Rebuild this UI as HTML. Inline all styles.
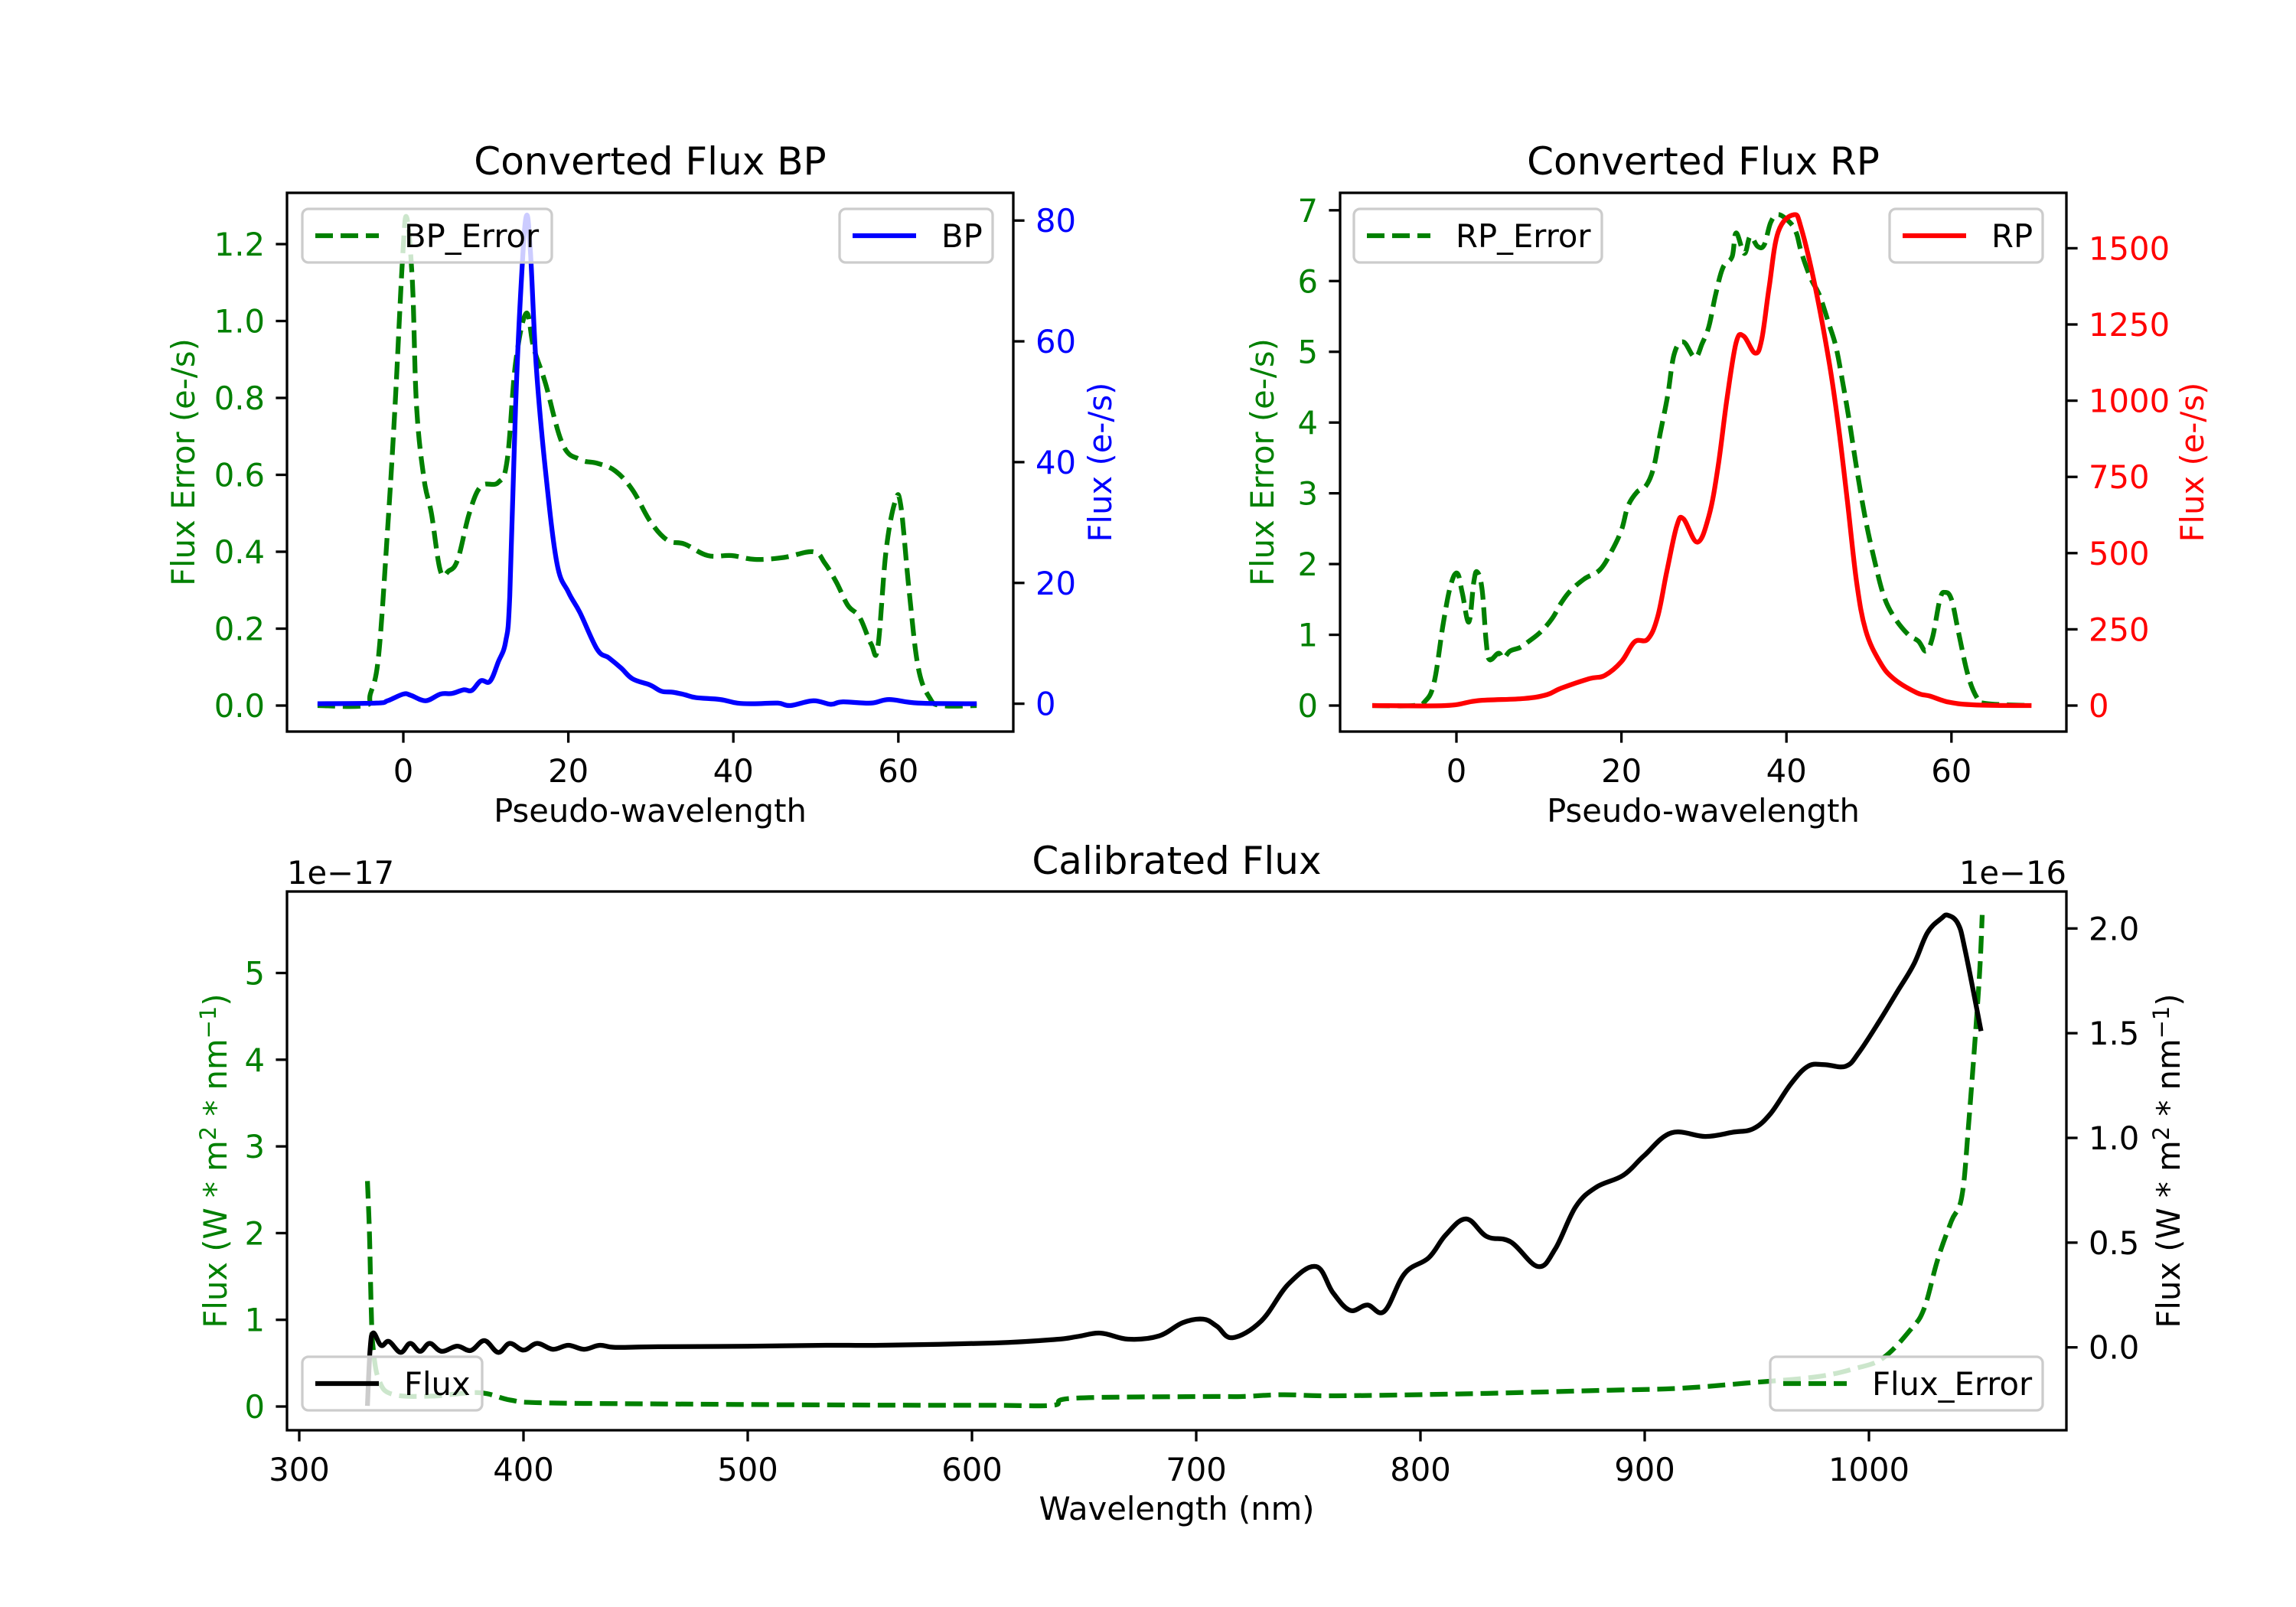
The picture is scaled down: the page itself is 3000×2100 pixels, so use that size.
<!DOCTYPE html>
<html><head><meta charset="utf-8"><style>
html,body{margin:0;padding:0;background:#fff;}
svg{display:block;font-family:"DejaVu Sans","Liberation Sans",sans-serif;}
</style></head><body>
<svg id="fig" width="3000" height="2100" viewBox="0 0 3000 2100" xmlns="http://www.w3.org/2000/svg"></svg>
<script>
// ---- BP data ----
const bpX = [-10.4,-3.3,-1.9,0,0.9,2.7,4.5,5.9,7.3,8.3,9.4,10.5,11.5,12.4,12.9,13.6,14.3,14.9,15.4,16.1,17.2,18.6,20,21.4,23.5,24.9,26.4,27.8,29.9,31.3,32.7,34.1,35.5,38.4,40.5,42.6,45.4,46.9,49.7,51.8,53.2,56.7,58.9,62.4,69.5];
const bpFlux = [0,0.1,0.5,1.6,1.4,0.5,1.6,1.7,2.3,2.2,3.8,3.7,6.9,10.3,17.9,49,70,80.7,75,56,39,23.4,18.5,15.1,9.0,7.6,5.9,4.1,3.1,2.06,1.9,1.5,1.0,0.7,0.1,0,0.1,-0.3,0.5,-0.1,0.3,0.1,0.7,0.1,0];
const bpErrX = [-10.4,-4.7,-4,-3,-1.9,-1,-0.1,0.4,1.1,1.6,2.5,3.4,4.5,5.5,6.6,8,9.4,11.5,12.6,13.6,14.9,15.8,17.2,19.3,21.4,23.5,25.7,27.8,29.9,32,34.1,36.9,39.8,42.6,46.1,49.7,51.1,52.5,53.9,55.3,56.7,57.5,58.5,59.6,60.3,61.3,62.4,63.8,65.2,69.5];
const bpErr = [0,0,0.03,0.13,0.46,0.78,1.16,1.27,1.1,0.78,0.59,0.5,0.35,0.35,0.38,0.5,0.57,0.58,0.64,0.89,1.02,0.93,0.84,0.68,0.64,0.63,0.61,0.56,0.48,0.43,0.42,0.39,0.39,0.38,0.385,0.4,0.37,0.32,0.26,0.23,0.16,0.15,0.4,0.53,0.52,0.3,0.1,0.02,0,0];
// ---- RP data ----
const rpX = [-10.2,-1.3,2.6,8.2,11,12.7,16.1,18,20,21.6,23.2,24.4,25.5,26.7,27.5,29.2,30.6,31.7,32.8,33.9,34.8,36.2,37,37.9,39,40.9,41.8,43.5,45.2,46.3,47.4,48.5,49.6,51.3,53,55.8,57.4,59.7,63,69.7];
const rpFlux = [0,0,16,23,36,57,88,99,144,209,218,292,440,588,613,536,622,781,1008,1190,1212,1156,1201,1372,1553,1610,1565,1372,1122,917,667,406,247,144,88,42,31,11,2,0];
const rpErrX = [-10.2,-5.2,-3.8,-2.7,-1.6,-0.7,0.1,0.7,1.5,2.1,2.5,3.1,3.6,4,5.1,5.7,6.5,7.7,8.8,10.2,11.6,12.7,13.8,15.5,17.4,18.8,20,20.8,21.9,23,23.9,24.7,25.6,26.4,27.5,28.9,29.8,30.6,31.4,32.3,33.4,33.9,34.9,35.6,36.5,37.3,38.1,39,40.4,41.2,41.8,42.9,44,45.1,46,46.8,47.6,48.5,49.6,50.7,51.8,53,54.7,56,56.9,57.7,58.6,59.2,60,60.9,62,63.1,64.1,69.7];
const rpErr = [0,0,0.06,0.33,1.16,1.7,1.87,1.6,1.18,1.74,1.89,1.65,0.91,0.65,0.74,0.67,0.77,0.82,0.91,1.04,1.23,1.45,1.62,1.79,1.92,2.18,2.48,2.82,3.02,3.11,3.36,3.85,4.38,4.97,5.14,4.92,5.12,5.36,5.8,6.19,6.34,6.68,6.39,6.63,6.49,6.51,6.83,6.94,6.83,6.68,6.41,6.05,5.8,5.41,5.07,4.58,4.04,3.36,2.62,2.04,1.55,1.26,1.01,0.91,0.77,0.96,1.5,1.6,1.5,1.01,0.43,0.11,0.03,0];
// ---- Calibrated data ----
const calX = [330.4,331.6,333,336.5,340,345.2,349.5,353.9,358.2,363.5,370.4,376.5,382.6,388.7,393.9,400,406.1,413.1,420,427,434,441,460,500,535,559,610,637.6,646.8,657.4,669.6,683.3,694,703.1,709.2,716.2,729,741.2,753.4,761,768.6,776.3,783.9,793,803.7,811.3,820.4,829.6,840.2,852.4,860.1,869.2,878.3,890.5,899.7,911.9,927.1,939.3,948.4,956.1,965.2,972.8,980,989.6,995.6,1004.8,1012.4,1020,1026.1,1032.2,1035.3,1039.8,1042.9,1050];
const calFlux = [-0.279,-0.009,0.069,0.009,0.028,-0.024,0.019,-0.019,0.019,-0.019,0.006,-0.015,0.032,-0.024,0.019,-0.013,0.019,-0.009,0.01,-0.009,0.01,0,0.003,0.005,0.01,0.01,0.021,0.038,0.051,0.068,0.039,0.054,0.118,0.135,0.101,0.046,0.126,0.303,0.386,0.261,0.177,0.202,0.172,0.353,0.428,0.537,0.613,0.529,0.504,0.386,0.47,0.671,0.764,0.822,0.915,1.024,1.007,1.027,1.044,1.116,1.258,1.342,1.35,1.342,1.409,1.56,1.694,1.829,1.98,2.047,2.063,2.021,1.896,1.51];
const calErrX = [330.4,331.3,332.1,333,335.6,341.7,359,380,394,408,460,559,610,636,645.2,701.6,720,738.2,762.6,823.5,884.4,914.9,945.4,975.8,994.1,1006.3,1018.5,1024.6,1030.7,1036.8,1041.4,1044.4,1049,1050.5];
const calErr = [2.6,2.01,1.11,0.66,0.3,0.14,0.12,0.16,0.075,0.043,0.03,0.016,0.0145,0.014,0.095,0.115,0.115,0.136,0.124,0.148,0.188,0.209,0.27,0.34,0.44,0.56,0.885,1.13,1.7,2.14,2.42,3.24,4.86,5.67];
// ---- ticks ----
const bpXTicks = [0,20,40,60];
const bpLTicks = [0,0.2,0.4,0.6,0.8,1.0,1.2];
const bpRTicks = [0,20,40,60,80];
const rpLTicks = [0,1,2,3,4,5,6,7];
const rpRTicks = [0,250,500,750,1000,1250,1500];
const calXTicks = [300,400,500,600,700,800,900,1000];
const calLTicks = [0,1,2,3,4,5];
const calRTicks = [0,0.5,1.0,1.5,2.0];

const NS="http://www.w3.org/2000/svg";
const svg=document.getElementById('fig');
function mk(tag,attrs,parent){const e=document.createElementNS(NS,tag);for(const k in attrs)e.setAttribute(k,attrs[k]);(parent||svg).appendChild(e);return e;}
function lin(d0,d1,p0,p1){return v=>p0+(v-d0)*(p1-p0)/(d1-d0);}
const FS=41.7;

function axesBox(x0,y0,x1,y1,name){
  const r=mk('rect',{x:x0,y:y0,width:x1-x0,height:y1-y0,fill:'none',stroke:'#000','stroke-width':3.3});
  
  
}
function yTicks(ticks,sy,xa,side,color,fmt,name){
  const g=mk('g',{});
  
  
  ticks.forEach(t=>{
    const y=sy(t);
    const dx=side==='left'?-14.6:14.6;
    mk('line',{x1:xa,x2:xa+dx,y1:y,y2:y,stroke:'#000','stroke-width':3.3},g);
    const tx=mk('text',{x:side==='left'?xa-29:xa+29,y:y+15,'font-size':FS,fill:color,'text-anchor':side==='left'?'end':'start'},g);
    tx.textContent=fmt(t);
  });
}
function xTicks(ticks,sx,ya,fmt,name){
  const g=mk('g',{});
  
  
  ticks.forEach(t=>{
    const x=sx(t);
    mk('line',{x1:x,x2:x,y1:ya,y2:ya+14.6,stroke:'#000','stroke-width':3.3},g);
    const tx=mk('text',{x:x,y:ya+66,'font-size':FS,fill:'#000','text-anchor':'middle'},g);
    tx.textContent=fmt(t);
  });
}
function line(xs,ys,sx,sy,color,dashed,name,clip){
  const P=xs.map((x,i)=>[sx(x),sy(ys[i])]);
  let d='M'+P[0][0].toFixed(1)+','+P[0][1].toFixed(1);
  for(let i=0;i<P.length-1;i++){
    const p0=P[Math.max(0,i-1)],p1=P[i],p2=P[i+1],p3=P[Math.min(P.length-1,i+2)];
    const t=0.18;
    const c1=[p1[0]+(p2[0]-p0[0])*t,p1[1]+(p2[1]-p0[1])*t];
    const c2=[p2[0]-(p3[0]-p1[0])*t,p2[1]-(p3[1]-p1[1])*t];
    d+='C'+c1[0].toFixed(1)+','+c1[1].toFixed(1)+' '+c2[0].toFixed(1)+','+c2[1].toFixed(1)+' '+p2[0].toFixed(1)+','+p2[1].toFixed(1);
  }
  const p=mk('path',{d:d,fill:'none',stroke:color,'stroke-width':6.25,'stroke-linejoin':'round','clip-path':'url(#'+clip+')'});
  if(dashed)p.setAttribute('stroke-dasharray','23,10');
  
  
}
function text(x,y,s,size,color,anchor,name,rot){
  const t=mk('text',{x:x,y:y,'font-size':size,fill:color,'text-anchor':anchor||'middle'});
  if(rot)t.setAttribute('transform','rotate(-90 '+x+' '+y+')');
  t.textContent=s;
  
  
  return t;
}
function legend(x0,y0,x1,y1,color,dashed,label,name){
  const g=mk('g',{});
  
  
  mk('rect',{x:x0,y:y0,width:x1-x0,height:y1-y0,rx:8,fill:'#fff','fill-opacity':0.8,stroke:'#ccc','stroke-width':3.3},g);
  const cy=(y0+y1)/2;
  const l=mk('line',{x1:x0+17,x2:x0+100,y1:cy,y2:cy,stroke:color,'stroke-width':6.25},g);
  if(dashed)l.setAttribute('stroke-dasharray','23,10');
  const t=mk('text',{x:x0+133,y:cy+15,'font-size':FS,fill:'#000'},g);
  t.textContent=label;
}
const defs=mk('defs',{});
function clip(id,x0,y0,x1,y1){const c=mk('clipPath',{id:id},defs);mk('rect',{x:x0,y:y0,width:x1-x0,height:y1-y0},c);}
const G='#008000';

// ===== BP =====
(function(){
  const X0=375,X1=1324,Y0=252,Y1=956;
  clip('cbp',X0,Y0,X1,Y1);
  const sx=lin(0,20,527,742.6);
  const syL=lin(0,1.2,922,319);
  const syR=lin(0,80,919.6,288.2);
  line(bpErrX,bpErr,sx,syL,G,true,'bp-error-line','cbp');
  line(bpX,bpFlux,sx,syR,'#0000ff',false,'bp-flux-line','cbp');
  axesBox(X0,Y0,X1,Y1,'bp-axes-frame');
  yTicks(bpLTicks,syL,X0,'left',G,v=>v.toFixed(1),'bp-left-y-ticks');
  yTicks(bpRTicks,syR,X1,'right','#0000ff',v=>String(v),'bp-right-y-ticks');
  xTicks(bpXTicks,sx,Y1,v=>String(v),'bp-x-ticks');
  text((X0+X1)/2,228,'Converted Flux BP',50,'#000','middle','bp-title');
  text((X0+X1)/2,1074,'Pseudo-wavelength',FS,'#000','middle','bp-x-axis-title');
  text(254,604,'Flux Error (e-/s)',FS,G,'middle','bp-left-y-axis-title',true);
  text(1452,604,'Flux (e-/s)',FS,'#0000ff','middle','bp-right-y-axis-title',true);
  legend(395,273,721,343,G,true,'BP_Error','bp-error-legend');
  legend(1097,273,1297,343,'#0000ff',false,'BP','bp-legend');
})();

// ===== RP =====
(function(){
  const X0=1751,X1=2700,Y0=252,Y1=956;
  clip('crp',X0,Y0,X1,Y1);
  const sx=lin(0,20,1903,2118.6);
  const syL=lin(0,7,922,274.8);
  const syR=lin(0,1500,922,324.4);
  line(rpErrX,rpErr,sx,syL,G,true,'rp-error-line','crp');
  line(rpX,rpFlux,sx,syR,'#ff0000',false,'rp-flux-line','crp');
  axesBox(X0,Y0,X1,Y1,'rp-axes-frame');
  yTicks(rpLTicks,syL,X0,'left',G,v=>String(v),'rp-left-y-ticks');
  yTicks(rpRTicks,syR,X1,'right','#ff0000',v=>String(v),'rp-right-y-ticks');
  xTicks(bpXTicks,sx,Y1,v=>String(v),'rp-x-ticks');
  text((X0+X1)/2,228,'Converted Flux RP',50,'#000','middle','rp-title');
  text((X0+X1)/2,1074,'Pseudo-wavelength',FS,'#000','middle','rp-x-axis-title');
  text(1664,604,'Flux Error (e-/s)',FS,G,'middle','rp-left-y-axis-title',true);
  text(2879,604,'Flux (e-/s)',FS,'#ff0000','middle','rp-right-y-axis-title',true);
  legend(1769,273,2093,343,G,true,'RP_Error','rp-error-legend');
  legend(2469,273,2669,343,'#ff0000',false,'RP','rp-legend');
})();

// ===== Calibrated =====
(function(){
  const X0=375,X1=2700,Y0=1165,Y1=1869;
  clip('ccal',X0,Y0,X1,Y1);
  const sx=lin(300,1000,391,2442);
  const syL=lin(0,1,1838,1724.7);
  const syR=lin(0,2,1760.7,1213.3);
  line(calErrX,calErr,sx,syL,G,true,'flux-error-line','ccal');
  line(calX,calFlux,sx,syR,'#000',false,'calibrated-flux-line','ccal');
  axesBox(X0,Y0,X1,Y1,'calibrated-axes-frame');
  yTicks(calLTicks,syL,X0,'left',G,v=>String(v),'calibrated-left-y-ticks');
  yTicks(calRTicks,syR,X1,'right','#000',v=>v.toFixed(1),'calibrated-right-y-ticks');
  xTicks(calXTicks,sx,Y1,v=>String(v),'calibrated-x-ticks');
  text((X0+X1)/2,1142,'Calibrated Flux',50,'#000','middle','calibrated-title');
  text((X0+X1)/2,1986,'Wavelength (nm)',FS,'#000','middle','calibrated-x-axis-title');
  text(375,1155,'1e\u221217',FS,'#000','start','left-offset-text');
  text(2700,1155,'1e\u221216',FS,'#000','end','right-offset-text');
  const l=text(296,1517,'',FS,G,'middle','calibrated-left-y-axis-title',true);
  l.innerHTML='Flux (W * m<tspan dy="-14" font-size="29">2</tspan><tspan dy="14"> * nm</tspan><tspan dy="-14" font-size="29">\u22121</tspan><tspan dy="14">)</tspan>';
  const r=text(2848,1517,'',FS,'#000','middle','calibrated-right-y-axis-title',true);
  r.innerHTML='Flux (W * m<tspan dy="-14" font-size="29">2</tspan><tspan dy="14"> * nm</tspan><tspan dy="-14" font-size="29">\u22121</tspan><tspan dy="14">)</tspan>';
  legend(395,1773,630,1843,'#000',false,'Flux','flux-legend');
  legend(2313,1773,2669,1843,G,true,'Flux_Error','flux-error-legend');
})();
</script>
</body></html>
